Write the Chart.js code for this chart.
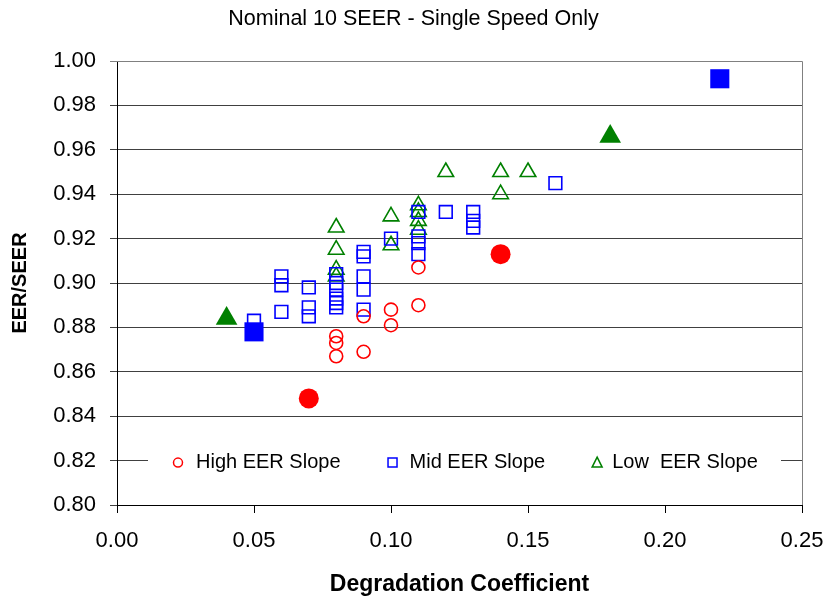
<!DOCTYPE html>
<html><head><meta charset="utf-8">
<script src="https://cdn.jsdelivr.net/npm/chart.js@4/dist/chart.umd.min.js"></script>
<style>html,body{margin:0;padding:0;background:#fff}#wrap{width:827px;height:597px}</style>
</head><body><div id="wrap"><canvas id="c" width="827" height="597"></canvas></div>
<script>
// ---- data ----
const highX = [0.08, 0.08, 0.08, 0.09, 0.09, 0.10, 0.10, 0.11, 0.11];
const highY = [0.876, 0.873, 0.867, 0.885, 0.869, 0.888, 0.881, 0.907, 0.890];

const midX = [0.05, 0.06, 0.06, 0.06, 0.07, 0.07, 0.07, 0.08, 0.08, 0.08, 0.08, 0.08, 0.08,
              0.09, 0.09, 0.09, 0.09, 0.09, 0.10, 0.11, 0.11, 0.11, 0.11, 0.12, 0.13, 0.13, 0.13, 0.16];
const midY = [0.883, 0.903, 0.899, 0.887, 0.898, 0.889, 0.885, 0.904, 0.900, 0.897, 0.893, 0.891, 0.889,
              0.914, 0.912, 0.903, 0.897, 0.888, 0.920, 0.932, 0.921, 0.918, 0.913, 0.932, 0.932, 0.928, 0.925, 0.945];

const lowX = [0.08, 0.08, 0.08, 0.08, 0.10, 0.10, 0.11, 0.11, 0.11, 0.11, 0.12, 0.14, 0.14, 0.15];
const lowY = [0.925, 0.915, 0.906, 0.903, 0.930, 0.917, 0.935, 0.932, 0.928, 0.924, 0.950, 0.950, 0.940, 0.950];

const highAvgX = [0.07, 0.14];
const highAvgY = [0.848, 0.913];
const midAvgX = [0.05, 0.22];
const midAvgY = [0.878, 0.992];
const lowAvgX = [0.04, 0.18];
const lowAvgY = [0.884, 0.966];

const xTicks = [0.00, 0.05, 0.10, 0.15, 0.20, 0.25];
const yTicks = [0.80, 0.82, 0.84, 0.86, 0.88, 0.90, 0.92, 0.94, 0.96, 0.98, 1.00];

const seriesNames = ['High EER Slope', 'Mid EER Slope', 'Low  EER Slope'];
const titleText = 'Nominal 10 SEER - Single Speed Only';
const xTitle = 'Degradation Coefficient';
const yTitle = 'EER/SEER';

const RED = '#FF0000', BLUE = '#0000FF', GREEN = '#008000';
const FONT = '"Liberation Sans", Arial, sans-serif';

function pts(xs, ys) { return xs.map((x, i) => ({x: x, y: ys[i]})); }

function openSet(label, xs, ys, color, style, r) {
  return {label, data: pts(xs, ys), showInLegend: true, pointStyle: style, pointRadius: r,
    pointHoverRadius: r, borderColor: color, backgroundColor: 'rgba(0,0,0,0)',
    pointBorderWidth: 1.6, borderWidth: 1.6, showLine: false};
}
function filledSet(label, xs, ys, color, style, r) {
  return {label, data: pts(xs, ys), showInLegend: false, pointStyle: style, pointRadius: r,
    pointHoverRadius: r, borderColor: color, backgroundColor: color,
    pointBorderWidth: 0, borderWidth: 0, showLine: false};
}

const markerTextGap = {circle: 18, rect: 17, triangle: 15};

function drawMarker(ctx, style, x, y, color) {
  ctx.save();
  ctx.strokeStyle = color; ctx.lineWidth = 1.5;
  ctx.beginPath();
  if (style === 'circle') {
    ctx.arc(x, y, 4.5, 0, Math.PI * 2);
  } else if (style === 'rect') {
    ctx.rect(x - 4.5, y - 4.5, 9, 9);
  } else {
    ctx.moveTo(x, y - 5.5); ctx.lineTo(x + 5, y + 4.5); ctx.lineTo(x - 5, y + 4.5); ctx.closePath();
  }
  ctx.stroke();
  ctx.restore();
}

const framePlugin = {
  id: 'frame',
  beforeDatasetsDraw(chart) {
    const {ctx, chartArea: a} = chart;
    ctx.save();
    ctx.strokeStyle = '#808080'; ctx.lineWidth = 1;
    ctx.beginPath();
    ctx.moveTo(a.left, a.top + 0.5); ctx.lineTo(a.right + 0.5, a.top + 0.5);
    ctx.lineTo(a.right + 0.5, a.bottom);
    ctx.stroke();
    ctx.restore();
  }
};

const legendPlugin = {
  id: 'insideLegend',
  afterDraw(chart) {
    const {ctx, chartArea: a, scales} = chart;
    const yc = scales.y.getPixelForValue(yTicks[1]) + 2;
    ctx.save();
    ctx.fillStyle = '#fff';
    ctx.fillRect(a.left + 31, yc - 15, a.right - a.left - 52, 30);
    ctx.font = '20px ' + FONT;
    ctx.textBaseline = 'middle';
    ctx.textAlign = 'left';
    let x = a.left + 61;
    chart.data.datasets.filter(d => d.showInLegend).forEach(d => {
      const g = markerTextGap[d.pointStyle];
      drawMarker(ctx, d.pointStyle, x, yc, d.borderColor);
      ctx.fillStyle = '#000';
      ctx.fillText(d.label, x + g, yc);
      x += g + ctx.measureText(d.label).width + 52;
    });
    ctx.restore();
  }
};

new Chart(document.getElementById('c'), {
  type: 'scatter',
  data: {
    datasets: [
      filledSet('High avg', highAvgX, highAvgY, RED, 'circle', 10),
      filledSet('Mid avg', midAvgX, midAvgY, BLUE, 'rect', 13.5),
      filledSet('Low avg', lowAvgX, lowAvgY, GREEN, 'triangle', 12.5),
      openSet(seriesNames[0], highX, highY, RED, 'circle', 6.5),
      openSet(seriesNames[1], midX, midY, BLUE, 'rect', 9),
      openSet(seriesNames[2], lowX, lowY, GREEN, 'triangle', 9)
    ]
  },
  options: {
    responsive: false,
    animation: false,
    devicePixelRatio: 1,
    layout: {padding: {left: 0, right: 0, top: 0, bottom: 0}},
    plugins: {
      legend: {display: false},
      tooltip: {enabled: false},
      title: {display: true, text: titleText, color: '#000',
        font: {family: FONT, size: 21.5, weight: 'normal'}, padding: {top: 6, bottom: 29.2}}
    },
    scales: {
      x: {
        type: 'linear', min: xTicks[0], max: xTicks[xTicks.length - 1],
        afterFit: s => { s.height = 92; s.paddingRight = 0; s.paddingLeft = 0; },
        afterBuildTicks: s => { s.ticks = xTicks.map(v => ({value: v})); },
        ticks: {color: '#000', font: {family: FONT, size: 22}, padding: 15,
          callback: v => Number(v).toFixed(2), maxRotation: 0},
        grid: {drawOnChartArea: false, drawTicks: true, tickLength: 8, color: '#000'},
        border: {color: '#000', width: 1},
        title: {display: true, text: xTitle, color: '#000',
          font: {family: FONT, size: 23, weight: 'bold', lineHeight: 1}, padding: {top: 0, bottom: 0.5}}
      },
      y: {
        type: 'linear', min: yTicks[0], max: yTicks[yTicks.length - 1],
        afterFit: s => { s.width = 117; },
        afterBuildTicks: s => { s.ticks = yTicks.map(v => ({value: v})); },
        ticks: {color: '#000', font: {family: FONT, size: 22}, padding: 14,
          callback: v => Number(v).toFixed(2)},
        grid: {drawOnChartArea: true, drawTicks: true, tickLength: 7,
          color: c => (c.tick && Math.abs(c.tick.value - 1) < 1e-9) ? '#808080' : '#404040', lineWidth: 1},
        border: {color: '#000', width: 1},
        title: {display: true, text: yTitle, color: '#000',
          font: {family: FONT, size: 20, weight: 'bold'}, padding: {top: 8, bottom: 0}}
      },
      yRight: {
        type: 'linear', position: 'right', display: true,
        min: yTicks[0], max: yTicks[yTicks.length - 1],
        afterFit: s => { s.width = 25; },
        ticks: {display: false},
        grid: {display: false, drawOnChartArea: false, drawTicks: false},
        border: {display: false}
      }
    }
  },
  plugins: [framePlugin, legendPlugin]
});
</script>
</body></html>
